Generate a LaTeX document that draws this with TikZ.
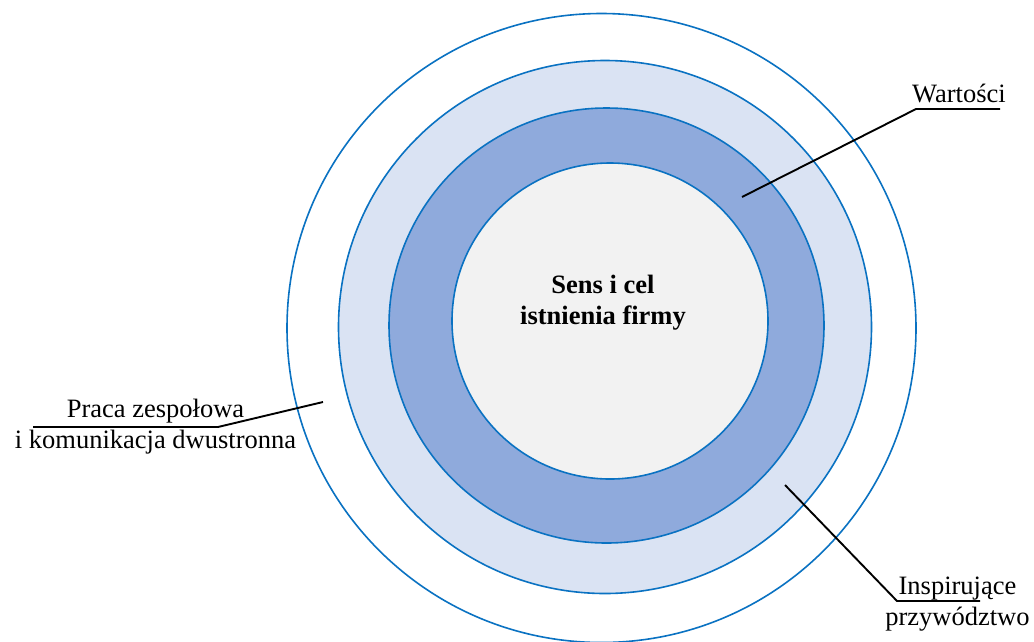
\documentclass[tikz,border=0pt]{standalone}
\usepackage{fontspec}
\setmainfont{Liberation Serif}
\definecolor{ringblue}{HTML}{0A72C2}
\definecolor{lightring}{HTML}{DAE3F3}
\definecolor{midring}{HTML}{8FAADC}
\definecolor{core}{HTML}{F2F2F2}
\begin{document}
\begin{tikzpicture}[x=1pt,y=-1pt,
  ring/.style={draw=ringblue, line width=1.6pt},
  leader/.style={draw=black, line width=1.9pt},
  lbl/.style={font=\fontsize{26.5}{31}\selectfont, align=center, inner sep=0pt, anchor=base},
]
\useasboundingbox (0,0) rectangle (1034,641);
\fill[white] (0,0) rectangle (1034,641);

% concentric rings, outermost first
\path[ring] (601.5,328) circle[radius=314.5pt];
\path[ring, fill=lightring] (605,327) circle[radius=266.5pt];
\path[ring, fill=midring] (606.5,325.5) circle[radius=217.5pt];
\path[ring, fill=core] (610,321) circle[radius=158pt];

% labels (anchor at the baseline of the last line)
\node[lbl, font=\fontsize{26.5}{31}\selectfont\bfseries] (core) at (603,324) {Sens i cel\\istnienia firmy};
\node[lbl] (values) at (959,102) {Wartości};
\node[lbl] (team) at (155.5,448) {Praca zespołowa\\i komunikacja dwustronna};
\node[lbl] (lead) at (957.5,625) {Inspirujące\\przywództwo};

% leader lines
\coordinate (vA) at (742,197);
\coordinate (vB) at (916,109);
\coordinate (vC) at (1000,109);
\draw[leader] (vA) -- (vB) -- (vC);

\coordinate (tA) at (323,402);
\coordinate (tB) at (218,427);
\coordinate (tC) at (33,427);
\draw[leader] (tA) -- (tB) -- (tC);

\coordinate (lA) at (785,485);
\coordinate (lB) at (897,601);
\coordinate (lC) at (980,601);
\draw[leader] (lA) -- (lB) -- (lC);
\end{tikzpicture}
\end{document}
